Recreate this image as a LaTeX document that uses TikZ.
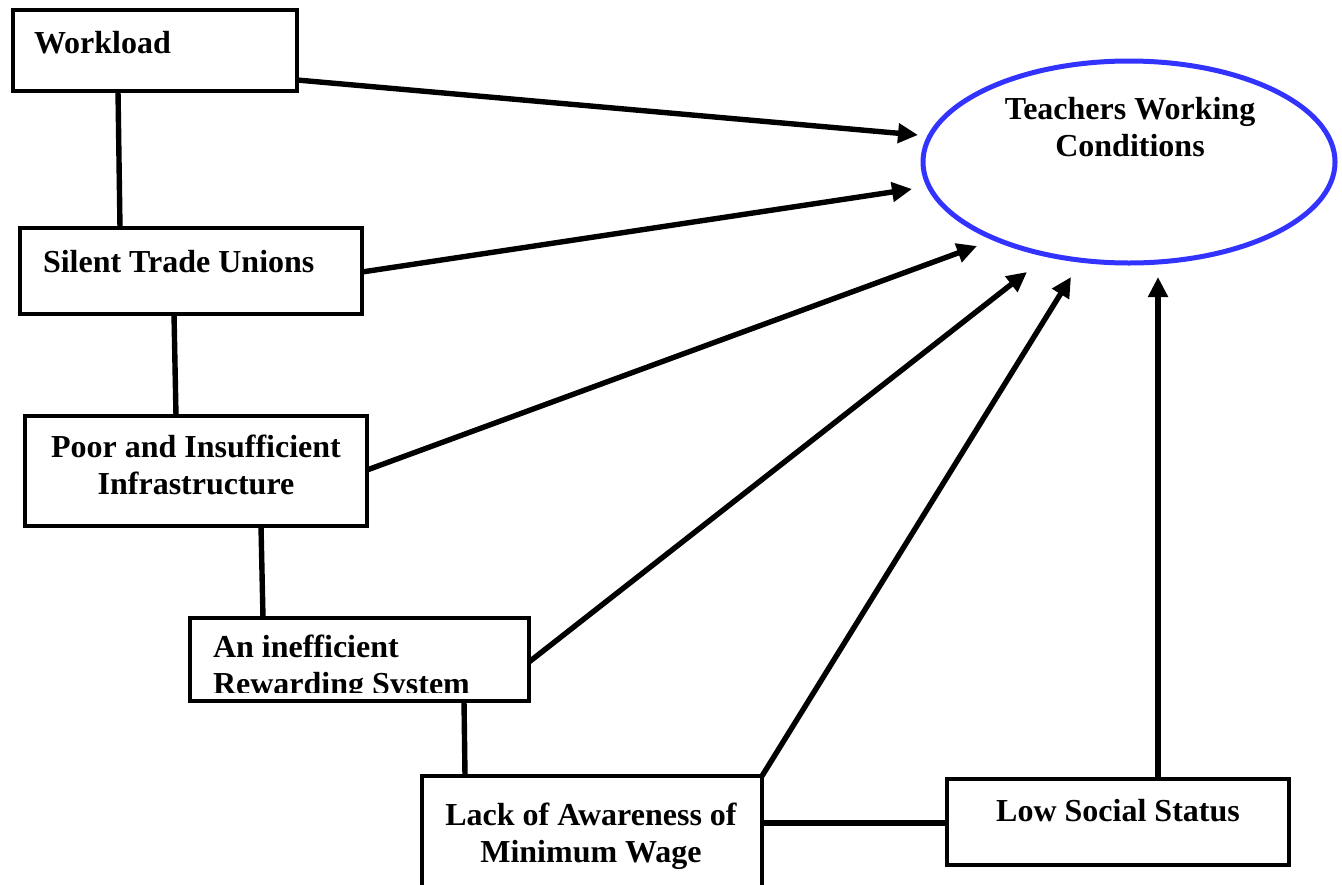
\documentclass[tikz,border=0pt]{standalone}
\usepackage{fontspec}
\setmainfont{Liberation Serif}
\usetikzlibrary{arrows.meta,calc,shapes.geometric}
\definecolor{ellblue}{RGB}{51,51,255}
\tikzset{
  box/.style={draw, line width=2pt, rectangle, inner sep=0pt, outer sep=0pt, anchor=north west},
  txt/.style={inner sep=0pt, outer sep=0pt, font=\fontsize{16}{18.5}\selectfont\bfseries},
  link/.style={line width=2.7pt},
  arr/.style={line width=2.7pt, -{Triangle[length=10pt,width=9.5pt]}},
}
\newcommand{\twolines}[2]{\begin{tabular}[t]{@{}c@{}}#1\\#2\end{tabular}}
\begin{document}
\begin{tikzpicture}[x=0.5pt,y=-0.5pt]
\useasboundingbox (0,0) rectangle (1342,884);
\clip (0,0) rectangle (1342,884);

% boxes
\node[box, minimum width=142pt, minimum height=40.5pt] (wl) at (13,10) {};
\node[box, minimum width=171pt, minimum height=43pt] (st) at (20,228) {};
\node[box, minimum width=171pt, minimum height=55pt] (pi) at (25,416) {};
\node[box, minimum width=169.5pt, minimum height=41.5pt] (ir) at (190,618) {};
\node[box, minimum width=170pt, minimum height=62pt] (la) at (422,776) {};
\node[box, minimum width=171pt, minimum height=43pt] (ls) at (947,779) {};

% ellipse
\node[draw=ellblue, line width=2.5pt, ellipse, minimum width=206pt, minimum height=101pt, inner sep=0pt] (tc) at (1129,162) {};

% texts
\node[txt, anchor=base west] (wlT) at (34,53) {Workload};
\node[txt, anchor=base west] (stT) at (43,272) {Silent Trade Unions};
\node[txt, anchor=base] (piT) at (196,457) {\twolines{Poor and Insufficient}{Infrastructure}};
\begin{scope}
  \clip (190,618) rectangle (529,692);
  \node[txt, anchor=base west] (irT) at (213,657) {\begin{tabular}[t]{@{}l@{}}An inefficient\\Rewarding System\end{tabular}};
\end{scope}
\node[txt, anchor=base] (laT) at (591,825) {\twolines{Lack of Awareness of}{Minimum Wage}};
\node[txt, anchor=base] (lsT) at (1118,821) {Low Social Status};
\node[txt, anchor=base] (tcT) at (1130,119) {\twolines{Teachers Working}{Conditions}};

% vertical links
\draw[link] ($(wl.south west)+(105,0)$) -- ($(st.north west)+(100,0)$);
\draw[link] ($(st.south west)+(154,0)$) -- ($(pi.north west)+(151,0)$);
\draw[link] ($(pi.south west)+(236,0)$) -- ($(ir.north west)+(73,0)$);
\draw[link] ($(ir.south west)+(274,0)$) -- ($(la.north west)+(43,0)$);
\draw[link] ($(la.north east)+(0,47)$) -- ($(ls.north west)+(0,44)$);

% arrow tips
\coordinate (t1) at (918,135);
\coordinate (t2) at (912,189);
\coordinate (t3) at (977,246);
\coordinate (t4) at (1027,272);
\coordinate (t5) at (1071,277);
\coordinate (t6) at (1158,277);

\draw[arr] ($(wl.north east)+(0,70)$) -- (t1);
\draw[arr] ($(st.north east)+(0,44)$) -- (t2);
\draw[arr] ($(pi.north east)+(0,54)$) -- (t3);
\draw[arr] ($(ir.north east)+(0,44)$) -- (t4);
\draw[arr] (la.north east) -- (t5);
\draw[arr] ($(ls.north west)+(211,0)$) -- (t6);
\end{tikzpicture}
\end{document}
